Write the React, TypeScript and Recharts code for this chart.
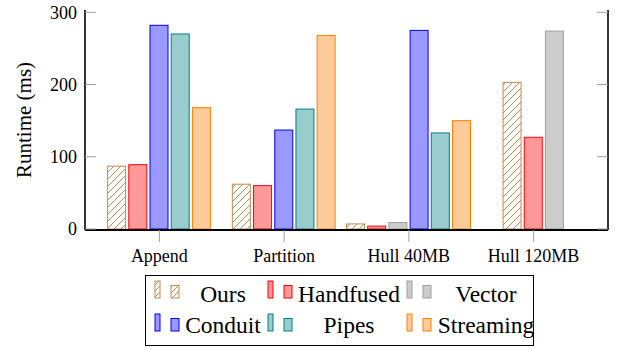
import { BarChart, Bar, XAxis, YAxis } from "recharts"

// runtime per benchmark, ms (null = not measured)
const categories = ["Append", "Partition", "Hull 40MB", "Hull 120MB"]
const ours = [87, 62, 7, 203]
const handfused = [89, 60, 4, 127]
const vector = [null, null, 9, 274]
const conduit = [282, 137, 275, null]
const pipes = [270, 166, 133, null]
const streaming = [168, 268, 150, null]
const yTicks = [0, 100, 200, 300]

const FONT = "'Liberation Serif', 'DejaVu Serif', serif"
const TICK_GREY = "#a0a0a0"
const BAR_SIZE = 18
const BAR_GAP = 3.2

const SERIES = [
  { key: "ours", name: "Ours", values: ours, fill: "url(#hatchOurs)", stroke: "#c48b52" },
  { key: "handfused", name: "Handfused", values: handfused, fill: "#ff9999", stroke: "#ff0000" },
  { key: "vector", name: "Vector", values: vector, fill: "#cccccc", stroke: "#a0a0a0" },
  { key: "conduit", name: "Conduit", values: conduit, fill: "#9999ff", stroke: "#0000ff" },
  { key: "pipes", name: "Pipes", values: pipes, fill: "#99cccc", stroke: "#008080" },
  { key: "streaming", name: "Streaming", values: streaming, fill: "#ffcc99", stroke: "#ff8000" },
]

const data = categories.map((name, i) => {
  const row: Record<string, any> = { name }
  SERIES.forEach((s) => (row[s.key] = s.values[i]))
  return row
})

// pgfplots packs the bars that exist in each group around the group centre,
// so shift each bar from its recharts slot to its rank among present series
const packedShape = (idx: number) => (props: any) => {
  const { x, y, width, height, payload } = props
  const key = SERIES[idx].key
  if (payload == null || payload[key] == null || !width) return <g />
  const present = SERIES.filter((s) => payload[s.key] != null).map((s) => s.key)
  const rank = present.indexOf(key)
  const step = BAR_SIZE + BAR_GAP
  const dx = (rank - (present.length - 1) / 2 - (idx - (SERIES.length - 1) / 2)) * step
  return (
    <rect
      x={x + dx}
      y={y}
      width={width}
      height={height}
      fill={SERIES[idx].fill}
      stroke={SERIES[idx].stroke}
      strokeWidth={1}
    />
  )
}

const LeftTick = (props: any) => {
  const { x, y, payload } = props
  return (
    <g>
      <text x={x} y={y} dy="0.355em" textAnchor="end" fontSize={18} fontFamily={FONT} fill="#000">
        {payload.value}
      </text>
      <line x1={x + 8} x2={x + 19} y1={y} y2={y} stroke={TICK_GREY} />
    </g>
  )
}

const RightTick = (props: any) => {
  const { x, y } = props
  return <line x1={x - 11} x2={x} y1={y} y2={y} stroke={TICK_GREY} />
}

const NoTick = () => null

// legend layout (pixels inside the legend box)
const LEG_IMG_X = [9, 122, 261]
const LEG_TEXT_X = [77, 203, 340]
const LEG_BAR_BOTTOM = [22, 55]
const LEG_BASELINE = [26, 57]

function Legend() {
  return (
    <div
      style={{
        position: "absolute",
        left: 145,
        top: 275,
        width: 389,
        height: 71,
        border: "1px solid #000",
        boxSizing: "border-box",
        background: "#fff",
        fontFamily: FONT,
      }}
    >
      <svg width={387} height={69} style={{ display: "block", fontFamily: FONT }}>
        <defs>
          <pattern id="hatchLegend" patternUnits="userSpaceOnUse" width={6} height={6}>
            <rect width={6} height={6} fill="#fff" />
            <path d="M0,6 L6,0 M-1,1 L1,-1 M5,7 L7,5" stroke="#c48b52" strokeWidth={1} />
          </pattern>
        </defs>
        {SERIES.map((s, i) => {
          const row = Math.floor(i / 3)
          const col = i % 3
          const x0 = LEG_IMG_X[col]
          const b = LEG_BAR_BOTTOM[row]
          const fill = s.key === "ours" ? "url(#hatchLegend)" : s.fill
          return (
            <g key={s.key}>
              <rect x={x0} y={b - 17} width={5} height={17} fill={fill} stroke={s.stroke} />
              <rect x={x0 + 16} y={b - 12.5} width={8} height={12.5} fill={fill} stroke={s.stroke} />
              <text
                x={LEG_TEXT_X[col]}
                y={LEG_BASELINE[row]}
                textAnchor="middle"
                fontSize={23.5}
                style={{ fontFamily: FONT }}
                fill="#000"
              >
                {s.name}
              </text>
            </g>
          )
        })}
      </svg>
    </div>
  )
}

export default function App() {
  return (
    <div style={{ position: "absolute", left: 0, top: 0, width: 620, height: 350, background: "#fff" }}>
      <BarChart
        width={620}
        height={350}
        data={data}
        margin={{ top: 10, right: 0, bottom: 80, left: 0 }}
        barSize={BAR_SIZE}
        barGap={BAR_GAP}
      >
        <defs>
          <pattern id="hatchOurs" patternUnits="userSpaceOnUse" width={7} height={7}>
            <rect width={7} height={7} fill="#fff" />
            <path d="M0,7 L7,0 M-1,1 L1,-1 M6,8 L8,6" stroke="#c48b52" strokeWidth={1} />
          </pattern>
        </defs>
        {SERIES.map((s, i) => (
          <Bar
            key={s.key}
            dataKey={s.key}
            name={s.name}
            fill={s.fill}
            stroke={s.stroke}
            isAnimationActive={false}
            shape={packedShape(i)}
          />
        ))}
        <XAxis
          dataKey="name"
          height={40}
          padding={{ left: 12, right: 12 }}
          tickSize={12}
          tickMargin={7}
          tickLine={{ stroke: TICK_GREY }}
          axisLine={{ stroke: "#000", strokeWidth: 2 }}
          tick={{ fontSize: 18, fontFamily: FONT, fill: "#000" }}
          interval={0}
        />
        <XAxis
          xAxisId="top"
          orientation="top"
          dataKey="name"
          height={0}
          padding={{ left: 12, right: 12 }}
          tickSize={10}
          tickLine={{ stroke: TICK_GREY }}
          axisLine={{ stroke: "#000", strokeWidth: 1.6 }}
          tick={NoTick}
          interval={0}
        />
        <YAxis
          width={85}
          type="number"
          domain={[-1.4, 303.2]}
          allowDataOverflow
          ticks={yTicks}
          tickSize={0}
          tickMargin={8}
          tickLine={false}
          axisLine={{ stroke: "#000", strokeWidth: 1.6 }}
          tick={LeftTick}
          label={{
            value: "Runtime (ms)",
            angle: -90,
            position: "insideLeft",
            offset: 24,
            style: { textAnchor: "middle", fontSize: 21, fontFamily: FONT, fill: "#000" },
          }}
        />
        <YAxis
          yAxisId="right"
          orientation="right"
          width={12}
          type="number"
          domain={[-1.4, 303.2]}
          allowDataOverflow
          ticks={yTicks}
          tickSize={0}
          tickMargin={0}
          tickLine={false}
          axisLine={{ stroke: "#000", strokeWidth: 1.6 }}
          tick={RightTick}
        />
      </BarChart>
      <Legend />
    </div>
  )
}
